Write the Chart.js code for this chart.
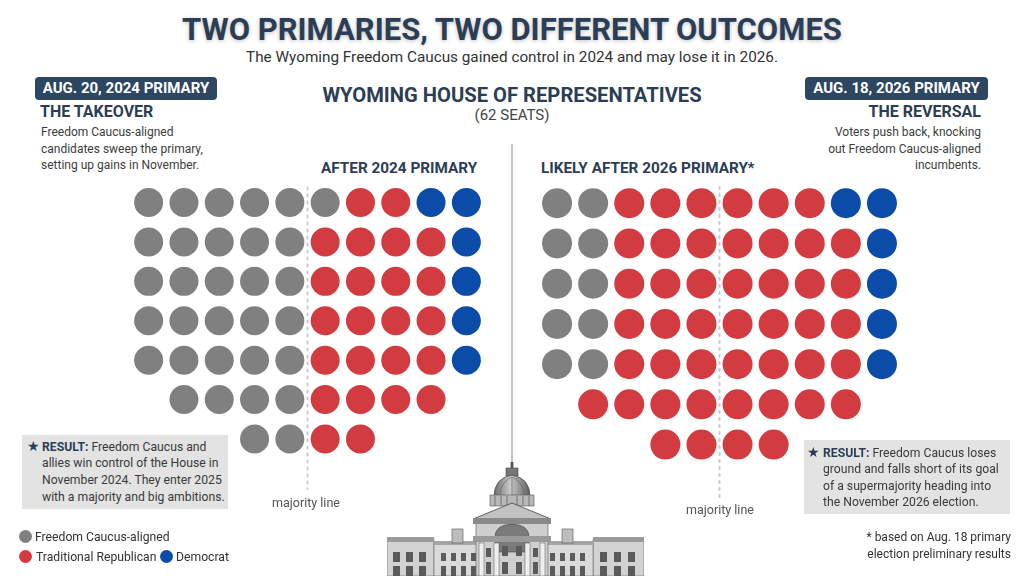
<!DOCTYPE html>
<html>
<head>
<meta charset="utf-8">
<script src="https://cdn.jsdelivr.net/npm/chart.js@4.4.0/dist/chart.umd.min.js"></script>
<style>
  html, body { margin:0; padding:0; background:#fff; }
  body { width:1024px; height:576px; position:relative; overflow:hidden; font-family: Roboto, "Noto Sans", sans-serif; color:#3a3a3a; }
  .t { position:absolute; white-space:nowrap; }
  .navy { color:#2c3e55; }
  .tag { position:absolute; background:#2d4661; color:#fff; font-weight:700; font-size:15px; border-radius:4px; text-align:center; line-height:23px; height:23px; }
  .box { position:absolute; background:#e3e3e3; }
  canvas { position:absolute; }
  .dot { display:inline-block; width:13px; height:13px; border-radius:50%; vertical-align:middle; position:absolute; }
</style>
</head>
<body>

<div class="t navy" style="left:0;width:1024px;text-align:center;top:11px;line-height:38px;font-size:31px;font-weight:700;text-shadow:0 1px 4px rgba(0,0,0,0.25);">TWO PRIMARIES, TWO DIFFERENT OUTCOMES</div>
<div class="t" style="left:0;width:1024px;text-align:center;top:47px;line-height:20px;font-size:15.3px;color:#333;">The Wyoming Freedom Caucus gained control in 2024 and may lose it in 2026.</div>

<div class="tag" style="left:35px;top:77px;width:182px;">AUG. 20, 2024 PRIMARY</div>
<div class="t navy" style="left:40px;top:102px;line-height:20px;font-size:16px;font-weight:700;">THE TAKEOVER</div>
<div class="t" style="left:41px;top:124px;line-height:16.5px;font-size:12px;color:#3d3d3d;">Freedom Caucus-aligned<br>candidates sweep the primary,<br>setting up gains in November.</div>

<div class="tag" style="left:805px;top:77px;width:183px;">AUG. 18, 2026 PRIMARY</div>
<div class="t navy" style="right:43px;top:102px;line-height:20px;font-size:16px;font-weight:700;text-align:right;">THE REVERSAL</div>
<div class="t" style="right:43px;top:124px;line-height:16.5px;font-size:12px;color:#3d3d3d;text-align:right;">Voters push back, knocking<br>out Freedom Caucus-aligned<br>incumbents.</div>

<div class="t navy" style="left:0;width:1024px;text-align:center;top:83px;line-height:24px;font-size:20.2px;font-weight:700;">WYOMING HOUSE OF REPRESENTATIVES</div>
<div class="t" style="left:0;width:1024px;text-align:center;top:106px;line-height:18px;font-size:15px;color:#444;">(62 SEATS)</div>

<div class="t navy" style="left:321px;top:158px;line-height:20px;font-size:15.3px;font-weight:700;">AFTER 2024 PRIMARY</div>
<div class="t navy" style="left:541px;top:158px;line-height:20px;font-size:15.3px;font-weight:700;">LIKELY AFTER 2026 PRIMARY*</div>

<div style="position:absolute;left:511px;top:144px;width:1.5px;height:326px;background:#c4c4c4;"></div>

<canvas id="left" width="353" height="327" style="left:131px;top:175px;width:353px;height:327px;"></canvas>
<canvas id="right" width="361" height="334" style="left:539px;top:175px;width:361px;height:334px;"></canvas>

<div class="t" style="left:256px;width:100px;text-align:center;top:494px;line-height:18px;font-size:12.5px;color:#555;">majority line</div>
<div class="t" style="left:670px;width:100px;text-align:center;top:501px;line-height:18px;font-size:12.5px;color:#555;">majority line</div>

<div class="box" style="left:22px;top:435px;width:206px;height:74px;"></div>
<div class="t navy" style="left:27px;top:438px;line-height:17px;font-size:14px;">★</div>
<div class="t" style="left:42px;top:438.5px;line-height:16.8px;font-size:12.2px;color:#3a3a3a;"><b class="navy">RESULT:</b> Freedom Caucus and<br>allies win control of the House in<br>November 2024. They enter 2025<br>with a majority and big ambitions.</div>

<div class="box" style="left:804px;top:440px;width:206px;height:74px;"></div>
<div class="t navy" style="left:807px;top:444px;line-height:17px;font-size:14px;">★</div>
<div class="t" style="left:823px;top:444.5px;line-height:16.5px;font-size:12.2px;color:#3a3a3a;"><b class="navy">RESULT:</b> Freedom Caucus loses<br>ground and falls short of its goal<br>of a supermajority heading into<br>the November 2026 election.</div>

<div class="t" style="right:13px;top:529px;line-height:17px;font-size:12px;color:#333;text-align:right;">* based on Aug. 18 primary<br>election preliminary results</div>

<div id="legend"></div>

<svg style="position:absolute;left:387px;top:440px;" width="257" height="136" viewBox="0 0 257 136">
  <defs>
    <linearGradient id="dome" x1="0" x2="1">
      <stop offset="0" stop-color="#6e6e6e"/><stop offset="0.45" stop-color="#c8c8c8"/><stop offset="1" stop-color="#5e5e5e"/>
    </linearGradient>
  </defs>
  <rect x="123.6" y="22" width="2.8" height="7" fill="#555"/>
  <rect x="119" y="28" width="12" height="8" fill="#777" stroke="#444" stroke-width="0.6"/>
  <path d="M107,57 Q107,38 125,35 Q143,38 143,57 Z" fill="url(#dome)" stroke="#444" stroke-width="0.7"/>
  <path d="M113,56 Q113,42 125,37 M137,56 Q137,42 125,37 M125,37 L125,56" stroke="#555" stroke-width="0.5" fill="none"/>
  <rect x="103" y="55" width="44" height="11" fill="#b8b8b8" stroke="#555" stroke-width="0.6"/>
  <g stroke="#666" stroke-width="0.8">
    <line x1="108" y1="56" x2="108" y2="66"/><line x1="114" y1="56" x2="114" y2="66"/><line x1="120" y1="56" x2="120" y2="66"/>
    <line x1="130" y1="56" x2="130" y2="66"/><line x1="136" y1="56" x2="136" y2="66"/><line x1="142" y1="56" x2="142" y2="66"/>
  </g>
  <rect x="0" y="99" width="47" height="37" fill="#d2d2d2" stroke="#666" stroke-width="0.6"/>
  <rect x="206" y="99" width="51" height="37" fill="#d2d2d2" stroke="#666" stroke-width="0.6"/>
  <rect x="47" y="103" width="45" height="33" fill="#dadada" stroke="#666" stroke-width="0.6"/>
  <rect x="158" y="103" width="48" height="33" fill="#dadada" stroke="#666" stroke-width="0.6"/>
  <rect x="0" y="97" width="47" height="5" fill="#9a9a9a"/>
  <rect x="206" y="97" width="51" height="5" fill="#9a9a9a"/>
  <rect x="47" y="101" width="45" height="4" fill="#a5a5a5"/>
  <rect x="158" y="101" width="48" height="4" fill="#a5a5a5"/>
  <rect x="65" y="89" width="11" height="14" fill="#bdbdbd" stroke="#555" stroke-width="0.6"/>
  <rect x="175" y="89" width="11" height="14" fill="#bdbdbd" stroke="#555" stroke-width="0.6"/>
  <rect x="89" y="80" width="72" height="56" fill="#cfcfcf" stroke="#555" stroke-width="0.6"/>
  <polygon points="86,79 125,63 164,79" fill="#c2c2c2" stroke="#444" stroke-width="0.8"/>
  <rect x="86" y="78" width="78" height="6" fill="#8a8a8a"/>
  <path d="M108,112 L108,97 Q108,85 125,84 Q142,85 142,97 L142,112 Z" fill="#7a7a7a" stroke="#444" stroke-width="0.6"/>
  <rect x="86" y="96" width="78" height="6" fill="#9a9a9a"/>
  <g fill="#efefef" stroke="#555" stroke-width="0.5">
    <rect x="92" y="103" width="5" height="33"/><rect x="107" y="103" width="5" height="33"/>
    <rect x="138" y="103" width="5" height="33"/><rect x="153" y="103" width="5" height="33"/>
  </g>
  <g fill="#5a5a5a">
    <rect x="115" y="106" width="6" height="10"/><rect x="129" y="106" width="6" height="10"/>
    <rect x="115" y="122" width="6" height="12"/><rect x="129" y="122" width="6" height="12"/>
    <rect x="99" y="108" width="5" height="9"/><rect x="146" y="108" width="5" height="9"/>
    <rect x="99" y="122" width="5" height="12"/><rect x="146" y="122" width="5" height="12"/>
    <rect x="6" y="112" width="7" height="10"/><rect x="19" y="112" width="7" height="10"/><rect x="32" y="112" width="7" height="10"/>
    <rect x="6" y="126" width="7" height="10"/><rect x="19" y="126" width="7" height="10"/><rect x="32" y="126" width="7" height="10"/>
    <rect x="54" y="113" width="5" height="8"/><rect x="64" y="113" width="5" height="8"/><rect x="74" y="113" width="5" height="8"/><rect x="84" y="113" width="5" height="8"/>
    <rect x="54" y="126" width="5" height="10"/><rect x="64" y="126" width="5" height="10"/><rect x="74" y="126" width="5" height="10"/><rect x="84" y="126" width="5" height="10"/>
    <rect x="163" y="113" width="5" height="8"/><rect x="173" y="113" width="5" height="8"/><rect x="183" y="113" width="5" height="8"/><rect x="193" y="113" width="5" height="8"/>
    <rect x="163" y="126" width="5" height="10"/><rect x="173" y="126" width="5" height="10"/><rect x="183" y="126" width="5" height="10"/><rect x="193" y="126" width="5" height="10"/>
    <rect x="213" y="112" width="7" height="10"/><rect x="227" y="112" width="7" height="10"/><rect x="241" y="112" width="7" height="10"/>
    <rect x="213" y="126" width="7" height="10"/><rect x="227" y="126" width="7" height="10"/><rect x="241" y="126" width="7" height="10"/>
  </g>
</svg>

<script>
// ---- DATA ----
const parties = ['Freedom Caucus-aligned', 'Traditional Republican', 'Democrat'];
const seatsPerFullRow = 10;
// seats per row (top to bottom), per party
const after2024Freedom    = [6, 5, 5, 5, 5, 4, 2];
const after2024Republican = [2, 4, 4, 4, 4, 4, 2];
const after2024Democrat   = [2, 1, 1, 1, 1, 0, 0];
const after2026Freedom    = [2, 2, 2, 2, 2, 0, 0];
const after2026Republican = [6, 7, 7, 7, 7, 8, 4];
const after2026Democrat   = [2, 1, 1, 1, 1, 0, 0];

// ---- STYLE ----
const partyColors = ['#808080', '#d23b40', '#0b4ca8'];

function buildSeats(rowsByParty) {
  const sets = rowsByParty.map(() => []);
  const nRows = rowsByParty[0].length;
  for (let r = 0; r < nRows; r++) {
    const total = rowsByParty.reduce((s, p) => s + p[r], 0);
    let col = (seatsPerFullRow - total) / 2;
    rowsByParty.forEach((p, pi) => {
      for (let i = 0; i < p[r]; i++) { sets[pi].push({ x: col, y: r }); col++; }
    });
  }
  return sets;
}

function makeChart(id, rowsByParty, radius, lineTop, lineBottom) {
  const sets = buildSeats(rowsByParty);
  const mid = (seatsPerFullRow - 1) / 2;
  const datasets = sets.map((pts, i) => ({
    label: parties[i], data: pts, backgroundColor: partyColors[i], borderWidth: 0,
    pointRadius: radius, pointHoverRadius: radius, order: 1
  }));
  datasets.push({
    label: 'majority line', data: [{ x: mid, y: lineTop }, { x: mid, y: lineBottom }],
    showLine: true, borderColor: '#c9c9d3', borderWidth: 2, borderDash: [2, 5], borderCapStyle: 'round',
    pointRadius: 0, order: 10
  });
  new Chart(document.getElementById(id), {
    type: 'scatter',
    data: { datasets },
    options: {
      responsive: false, animation: false, devicePixelRatio: 1,
      events: [],
      layout: { padding: 0, autoPadding: false },
      plugins: { legend: { display: false }, tooltip: { enabled: false } },
      scales: {
        x: { type: 'linear', min: -0.5, max: seatsPerFullRow - 0.5, display: false },
        y: { type: 'linear', min: -0.7, max: 7.6, reverse: true, display: false }
      }
    }
  });
}

makeChart('left', [after2024Freedom, after2024Republican, after2024Democrat], 14.5, -0.38, 7.27);
makeChart('right', [after2026Freedom, after2026Republican, after2026Democrat], 15, -0.4, 7.3);

// legend (HTML)
const lg = document.getElementById('legend');
const legendPos = [[19, 530, 35, 528], [19, 550, 36, 548], [160, 550, 176, 548]];
parties.forEach((p, i) => {
  const [dx, dy, tx, ty] = legendPos[i];
  const d = document.createElement('span');
  d.className = 'dot'; d.style.left = dx + 'px'; d.style.top = dy + 'px'; d.style.background = partyColors[i];
  lg.appendChild(d);
  const t = document.createElement('div');
  t.className = 't'; t.style.left = tx + 'px'; t.style.top = ty + 'px';
  t.style.lineHeight = '18px'; t.style.fontSize = '12.2px'; t.style.color = '#333';
  t.textContent = p;
  lg.appendChild(t);
});
</script>
</body>
</html>
